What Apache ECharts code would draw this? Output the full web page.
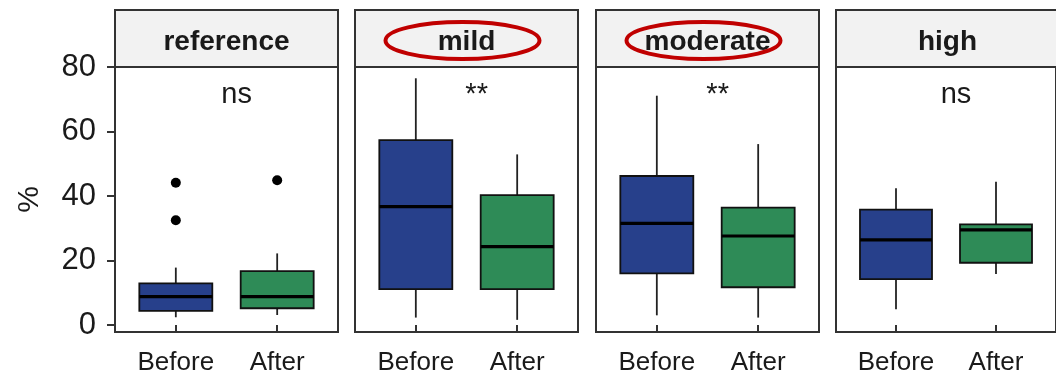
<!DOCTYPE html>
<html>
<head>
<meta charset="utf-8">
<script src="https://cdn.jsdelivr.net/npm/echarts@6/dist/echarts.min.js"></script>
<style>
  html, body { margin: 0; padding: 0; background: #fff; }
  #chart { width: 1056px; height: 376px; }
</style>
</head>
<body>
<div id="chart"></div>
<script>
// ---- data ----
const groups = ['reference', 'mild', 'moderate', 'high'];
const conditions = ['Before', 'After'];
// five-number summaries per group: [lower whisker, Q1, median, Q3, upper whisker]
const beforeStats = [
  [2.4, 4.4, 8.8, 12.9, 17.8],
  [2.3, 11.1, 36.7, 57.3, 76.5],
  [3.0, 16.0, 31.5, 46.2, 71.1],
  [4.9, 14.2, 26.4, 35.8, 42.4]
];
const afterStats = [
  [3.1, 5.2, 8.8, 16.7, 22.2],
  [1.6, 11.1, 24.3, 40.3, 52.9],
  [2.3, 11.7, 27.6, 36.4, 56.1],
  [15.8, 19.3, 29.5, 31.2, 44.4]
];
// outlying observations
const outlierGroup = [0, 0, 0];
const outlierCondition = [0, 0, 1];
const outlierValue = [44.1, 32.5, 44.9];
// significance of the Before/After comparison in each group
const sigLabels = ['ns', '**', '**', 'ns'];
const highlightedGroups = ['mild', 'moderate'];
const yTicks = [0, 20, 40, 60, 80];

// ---- layout & style ----
const FONT = '"Liberation Sans", Arial, Helvetica, sans-serif';
const TEXT = '#1a1a1a';
const FRAME = '#333333';
const BOX_COLORS = ['#27408B', '#2E8B57'];
const BOX_WIDTH = 0.72;           // in x units (categories at 1 and 2)
const X_MIN = 0.4, X_MAX = 2.6;
const Y_MIN = -2.17, Y_MAX = 80;
const SIG_X = 1.6, SIG_Y = 71.3;
const panelLeft = [115, 355, 596, 836];
const panelW = 223;
const panelTop = 67, panelH = 265;
const stripTop = 10, stripH = panelTop - stripTop;

function renderBox(params, api) {
  const x = api.value(0);
  const lo = api.coord([x, api.value(1)]);
  const q1 = api.coord([x, api.value(2)]);
  const md = api.coord([x, api.value(3)]);
  const q3 = api.coord([x, api.value(4)]);
  const hi = api.coord([x, api.value(5)]);
  const half = api.size([BOX_WIDTH, 0])[0] / 2;
  const fill = BOX_COLORS[Math.round(x) - 1];
  return {
    type: 'group',
    children: [
      { type: 'line', shape: { x1: lo[0], y1: lo[1], x2: q1[0], y2: q1[1] },
        style: { stroke: '#222', lineWidth: 1.8 } },
      { type: 'line', shape: { x1: q3[0], y1: q3[1], x2: hi[0], y2: hi[1] },
        style: { stroke: '#222', lineWidth: 1.8 } },
      { type: 'rect', shape: { x: q3[0] - half, y: q3[1], width: 2 * half, height: q1[1] - q3[1] },
        style: { fill: fill, stroke: '#111', lineWidth: 1.8 } },
      { type: 'line', shape: { x1: md[0] - half, y1: md[1], x2: md[0] + half, y2: md[1] },
        style: { stroke: '#000', lineWidth: 3.2 } }
    ]
  };
}

const grid = [], xAxis = [], yAxis = [], series = [], graphic = [];

groups.forEach((g, i) => {
  grid.push({
    left: panelLeft[i], top: panelTop, width: panelW, height: panelH,
    show: true, borderColor: FRAME, borderWidth: 2, backgroundColor: '#fff'
  });
  xAxis.push({
    type: 'value', gridIndex: i, min: X_MIN, max: X_MAX,
    axisLine: { show: false }, splitLine: { show: false },
    axisTick: { show: true, customValues: [1, 2], length: 8, lineStyle: { color: FRAME, width: 2 } },
    axisLabel: {
      customValues: [1, 2], formatter: v => conditions[Math.round(v) - 1],
      fontFamily: FONT, fontSize: 26, color: TEXT, margin: 18
    }
  });
  const first = i === 0;
  yAxis.push({
    type: 'value', gridIndex: i, min: Y_MIN, max: Y_MAX,
    axisLine: { show: false }, splitLine: { show: false },
    axisTick: { show: first, customValues: yTicks, length: 8, lineStyle: { color: FRAME, width: 2 } },
    axisLabel: { show: first, customValues: yTicks, fontFamily: FONT, fontSize: 31, color: TEXT, margin: 19 },
    name: first ? '%' : '', nameLocation: 'middle', nameRotate: 90, nameGap: 70,
    nameTextStyle: { fontFamily: FONT, fontSize: 30, color: TEXT }
  });

  // boxes
  series.push({
    type: 'custom', xAxisIndex: i, yAxisIndex: i,
    dimensions: ['x', 'min', 'q1', 'median', 'q3', 'max'],
    encode: { x: 0, y: [1, 2, 3, 4, 5] },
    renderItem: renderBox,
    data: [[1].concat(beforeStats[i]), [2].concat(afterStats[i])]
  });

  // outliers
  const pts = [];
  outlierValue.forEach((v, k) => {
    if (outlierGroup[k] === i) pts.push([outlierCondition[k] + 1, v]);
  });
  series.push({
    type: 'scatter', xAxisIndex: i, yAxisIndex: i, symbol: 'circle', symbolSize: 10,
    itemStyle: { color: '#000', opacity: 1 }, data: pts
  });

  // significance label
  series.push({
    type: 'scatter', xAxisIndex: i, yAxisIndex: i, symbolSize: 1,
    itemStyle: { color: 'rgba(0,0,0,0)', opacity: 1 }, silent: true,
    label: {
      show: true, position: 'inside', formatter: () => sigLabels[i],
      fontFamily: FONT, fontSize: 29, color: TEXT, opacity: 1
    },
    data: [[SIG_X, SIG_Y]]
  });

  // facet strip
  const cx = panelLeft[i] + panelW / 2;
  const cy = stripTop + stripH / 2 + 4;
  graphic.push({
    type: 'rect', shape: { x: panelLeft[i], y: stripTop, width: panelW, height: stripH },
    style: { fill: '#F2F2F2', stroke: FRAME, lineWidth: 2 }, z: 10
  });
  graphic.push({
    type: 'text', x: cx, y: cy, z: 11,
    style: { text: g, align: 'center', verticalAlign: 'middle',
             font: 'bold 28px ' + FONT, fill: TEXT }
  });
  if (highlightedGroups.includes(g)) {
    graphic.push({
      type: 'ellipse', z: 12,
      shape: { cx: cx - 4, cy: cy - 2, rx: 77, ry: 18.5 },
      style: { fill: 'none', stroke: '#C00000', lineWidth: 4 }
    });
  }
});

const chart = echarts.init(document.getElementById('chart'), null, { renderer: 'canvas' });
chart.setOption({
  animation: false,
  backgroundColor: '#fff',
  grid, xAxis, yAxis, series, graphic
});
</script>
</body>
</html>
